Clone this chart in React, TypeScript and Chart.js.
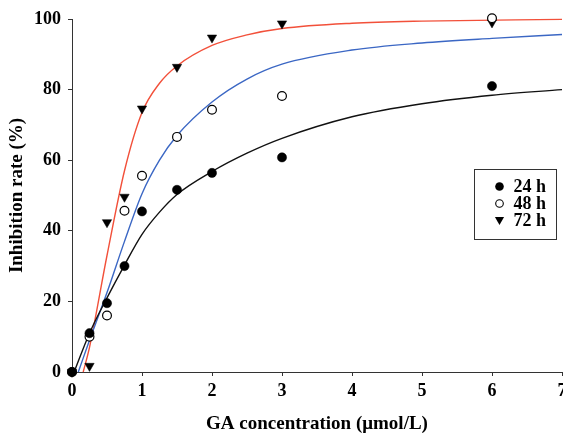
import React, { useEffect, useRef } from 'react';
import { Chart, registerables } from 'chart.js';

Chart.register(...registerables);

// Measured concentrations (µmol/L)
const concentrations = [0, 0.25, 0.5, 0.75, 1, 1.5, 2, 3, 6];
// Inhibition rate (%) per exposure time
const inhibition24h = [0, 11, 19.5, 30, 45.5, 51.6, 56.4, 60.8, 81];
const inhibition48h = [0, 10, 16, 45.7, 55.6, 66.6, 74.3, 78.2, 100.2];
const inhibition72h = [0, 1.7, 42.4, 49.6, 74.6, 86.4, 94.7, 98.7, 99];

// Fitted curves
const fit24X = [0.03, 0.25, 0.5, 0.75, 1, 1.25, 1.5, 2, 2.5, 3, 4, 5, 6, 7];
const fit24Y = [0, 11, 21, 30.3, 39, 45.3, 50.3, 56.8, 62, 66.2, 72.3, 76, 78.4, 80];
const fit48X = [0.09, 0.25, 0.5, 0.75, 1, 1.25, 1.5, 2, 2.5, 3, 4, 5, 6, 7];
const fit48Y = [0, 9, 22.5, 37, 50.5, 60, 67, 76.5, 83, 87.2, 91.2, 93.2, 94.5, 95.6];
const fit72X = [0.16, 0.25, 0.5, 0.75, 1, 1.25, 1.5, 2, 2.5, 3, 4, 5, 7];
const fit72Y = [0, 7, 33, 57, 73.5, 81.8, 86.7, 92.5, 95.5, 97.3, 98.8, 99.4, 99.9];

const seriesLabels = ['24 h', '48 h', '72 h'];
const xTicks = [0, 1, 2, 3, 4, 5, 6, 7];
const yTicks = [0, 20, 40, 60, 80, 100];

const FONT = "'Liberation Serif', 'Times New Roman', serif";
const AXIS_COLOR = '#333';

const toPoints = (xs: number[], ys: number[]) => xs.map((x, i) => ({ x, y: ys[i] }));

const legendPlugin = {
  id: 'boxLegend',
  afterDraw(chart: any) {
    const { ctx, chartArea } = chart;
    const left = chartArea.right - 88;
    const top = chartArea.top + 150;
    const w = 82;
    const h = 70;
    ctx.save();
    ctx.strokeStyle = AXIS_COLOR;
    ctx.lineWidth = 1;
    ctx.strokeRect(Math.round(left) + 0.5, Math.round(top) + 0.5, w, h);
    const mx = left + 25.5;
    const tx = left + 39.5;
    ctx.font = `bold 18px ${FONT}`;
    ctx.fillStyle = '#000';
    ctx.textBaseline = 'middle';
    ctx.textAlign = 'left';
    seriesLabels.forEach((label, i) => {
      const cy = top + 17.5 + i * 17;
      ctx.beginPath();
      if (i === 0) {
        ctx.arc(mx, cy, 4.3, 0, Math.PI * 2);
        ctx.fillStyle = '#000';
        ctx.fill();
      } else if (i === 1) {
        ctx.arc(mx, cy, 3.8, 0, Math.PI * 2);
        ctx.fillStyle = '#fff';
        ctx.fill();
        ctx.strokeStyle = '#000';
        ctx.lineWidth = 1.1;
        ctx.stroke();
      } else {
        ctx.moveTo(mx - 4.6, cy - 3.4);
        ctx.lineTo(mx + 4.6, cy - 3.4);
        ctx.lineTo(mx, cy + 4.6);
        ctx.closePath();
        ctx.fillStyle = '#000';
        ctx.fill();
      }
      ctx.fillStyle = '#000';
      ctx.fillText(label, tx, cy + 1);
    });
    ctx.restore();
  },
};

export default function App() {
  const canvasRef = useRef<HTMLCanvasElement | null>(null);

  useEffect(() => {
    document.body.style.margin = '0';
    const canvas = canvasRef.current;
    if (!canvas) return;

    const curve = (xs: number[], ys: number[], color: string) => ({
      type: 'line' as const,
      data: toPoints(xs, ys),
      borderColor: color,
      borderWidth: 1.4,
      pointRadius: 0,
      showLine: true,
      fill: false,
      cubicInterpolationMode: 'monotone' as const,
      clip: false as const,
      order: 5,
    });

    const chart = new Chart(canvas, {
      type: 'scatter',
      data: {
        datasets: [
          {
            label: seriesLabels[0],
            data: toPoints(concentrations, inhibition24h),
            pointStyle: 'circle',
            pointRadius: 4.6,
            backgroundColor: '#000',
            borderColor: '#000',
            borderWidth: 0.5,
            clip: false,
            order: 1,
          },
          {
            label: seriesLabels[1],
            data: toPoints(concentrations, inhibition48h),
            pointStyle: 'circle',
            pointRadius: 4.4,
            backgroundColor: '#fff',
            borderColor: '#000',
            borderWidth: 1.2,
            clip: false,
            order: 2,
          },
          {
            label: seriesLabels[2],
            data: toPoints(concentrations, inhibition72h),
            pointStyle: 'triangle',
            pointRotation: 180,
            pointRadius: 5.4,
            backgroundColor: '#000',
            borderColor: '#000',
            borderWidth: 0.5,
            clip: false,
            order: 3,
          },
          curve(fit24X, fit24Y, '#111111') as any,
          curve(fit48X, fit48Y, '#3b67c4') as any,
          curve(fit72X, fit72Y, '#f2503a') as any,
        ],
      },
      options: {
        animation: false,
        responsive: false,
        devicePixelRatio: 1,
        layout: {
          autoPadding: false,
          padding: { top: 19, right: 1, left: 0, bottom: 0 },
        },
        plugins: {
          legend: { display: false },
          tooltip: { enabled: false },
        },
        scales: {
          x: {
            type: 'linear',
            min: 0,
            max: 7,
            afterBuildTicks: (scale: any) => {
              scale.ticks = xTicks.map((v) => ({ value: v }));
            },
            afterFit: (scale: any) => {
              scale.height = 63;
              scale.paddingLeft = 0;
              scale.paddingRight = 0;
            },
            grid: {
              drawOnChartArea: false,
              drawTicks: true,
              tickLength: 4,
              color: AXIS_COLOR,
              lineWidth: 1,
            },
            border: { display: true, color: AXIS_COLOR, width: 1 },
            ticks: {
              padding: 5,
              color: '#000',
              maxRotation: 0,
              font: { family: FONT, size: 18, weight: 'bold' },
            },
            title: {
              display: true,
              text: 'GA concentration (\u03bcmol/L)',
              color: '#000',
              font: { family: FONT, size: 19, weight: 'bold' },
              padding: { top: 0, bottom: 0 },
            },
          },
          y: {
            type: 'linear',
            min: 0,
            max: 100,
            afterBuildTicks: (scale: any) => {
              scale.ticks = yTicks.map((v) => ({ value: v }));
            },
            afterFit: (scale: any) => {
              scale.width = 72;
              scale.paddingTop = 0;
              scale.paddingBottom = 0;
            },
            grid: {
              drawOnChartArea: false,
              drawTicks: true,
              tickLength: 4,
              color: AXIS_COLOR,
              lineWidth: 1,
            },
            border: { display: true, color: AXIS_COLOR, width: 1 },
            ticks: {
              padding: 7,
              color: '#000',
              font: { family: FONT, size: 18, weight: 'bold' },
            },
            title: {
              display: true,
              text: 'Inhibition rate (%)',
              color: '#000',
              font: { family: FONT, size: 19, weight: 'bold' },
              padding: { top: 6, bottom: 0 },
            },
          },
        },
      } as any,
      plugins: [legendPlugin],
    });

    return () => chart.destroy();
  }, []);

  return (
    <div style={{ width: 563, height: 435 }}>
      <canvas ref={canvasRef} width={563} height={435} style={{ display: 'block' }} />
    </div>
  );
}
